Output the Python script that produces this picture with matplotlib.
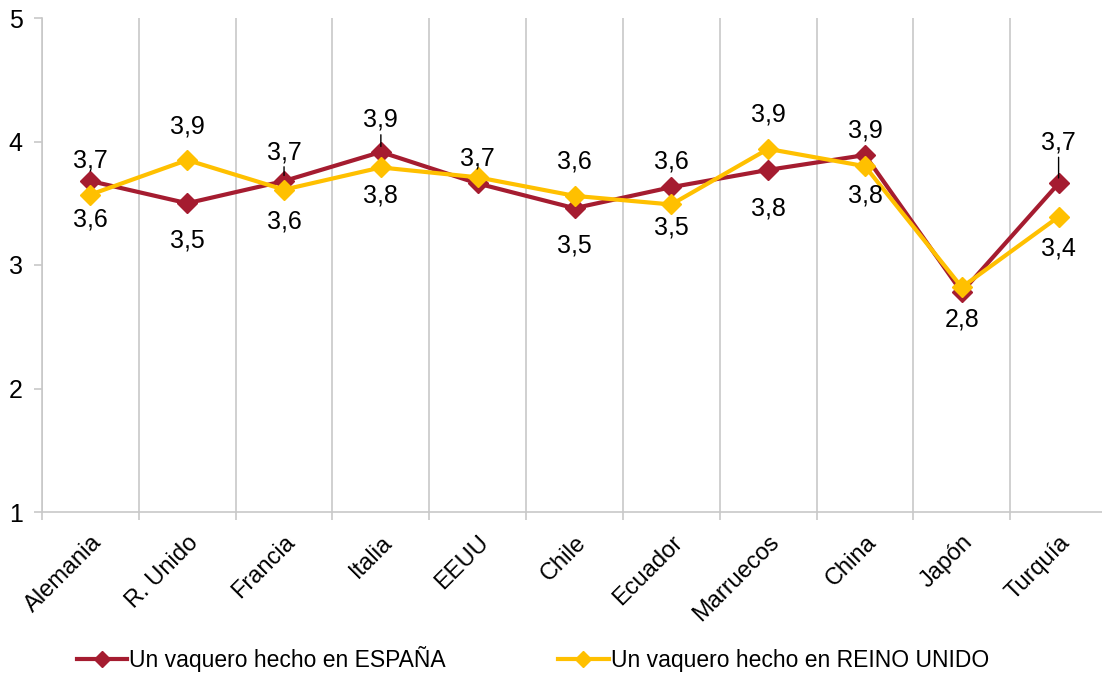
import numpy as np
import matplotlib
matplotlib.use("Agg")
import matplotlib.pyplot as plt

plt.rcParams['font.family'] = ['Liberation Sans', 'DejaVu Sans']

# datos
paises = ['Alemania', 'R. Unido', 'Francia', 'Italia', 'EEUU', 'Chile',
          'Ecuador', 'Marruecos', 'China', 'Japón', 'Turquía']
espana = [3.68, 3.50, 3.68, 3.915, 3.66, 3.46, 3.63, 3.77, 3.89, 2.78, 3.66]
reino_unido = [3.57, 3.85, 3.61, 3.79, 3.71, 3.56, 3.49, 3.94, 3.80, 2.82, 3.39]
nombres = ['Un vaquero hecho en ESPAÑA', 'Un vaquero hecho en REINO UNIDO']

# desplazamiento vertical de las etiquetas (pixeles, + = abajo), None = sin etiqueta
off_es = [-21, 37, -29, -32, -25, 37, -26, 39, -25, 27, -41]
off_ru = [25, -34, 32, 28, None, -34, 23, -34, 29, None, 32]
guia_es = [False, False, True, True, False, False, False, False, False, False, True]

rojo = '#A51C30'
amarillo = '#FFC000'
gris = '#C8C8C8'

fig = plt.figure(figsize=(11.02, 6.73), dpi=100)
ax = fig.add_axes([42/1102, 1-512/673, 1065/1102, 494/673])

x = np.arange(len(paises))
ax.plot(x, espana, color=rojo, lw=3, marker='D', ms=10, label=nombres[0], zorder=3)
ax.plot(x, reino_unido, color=amarillo, lw=3, marker='D', ms=10, label=nombres[1], zorder=4)

def etiqueta(v):
    return f'{v:.1f}'.replace('.', ',')

for i, v in enumerate(espana):
    if off_es[i] is None:
        continue
    ap = dict(arrowstyle='-', color='black', lw=1, shrinkA=0, shrinkB=4) if guia_es[i] else None
    ax.annotate(etiqueta(v), (x[i], v), xytext=(0, -off_es[i]), textcoords='offset pixels',
                ha='center', va='center', fontsize=18, arrowprops=ap, zorder=5)
for i, v in enumerate(reino_unido):
    if off_ru[i] is None:
        continue
    ax.annotate(etiqueta(v), (x[i], v), xytext=(0, -off_ru[i]), textcoords='offset pixels',
                ha='center', va='center', fontsize=18, zorder=5)

ax.set_xlim(-0.5, len(paises) - 0.5)
ax.set_ylim(1, 5)
ax.set_yticks([1, 2, 3, 4, 5])
ax.set_xticks(x)
ax.set_xticklabels(paises, rotation=45, ha='right', rotation_mode='anchor', fontsize=17)
ax.set_xticks(np.arange(-0.5, len(paises), 1), minor=True)
ax.tick_params(axis='x', which='major', length=0, pad=14)
ax.tick_params(axis='x', which='minor', length=6, color=gris, width=1.2)
ax.tick_params(axis='y', length=6, color=gris, width=1.2, labelsize=18, pad=8)
ax.grid(axis='x', which='minor', color=gris, lw=1.2)
for lado in ['top', 'right']:
    ax.spines[lado].set_visible(False)
for lado in ['left', 'bottom']:
    ax.spines[lado].set_color(gris)
    ax.spines[lado].set_linewidth(1.2)

fig.legend(loc='center left', bbox_to_anchor=(56/1102, 1-659/673), ncol=2, frameon=False,
           fontsize=16.5, handlelength=2.2, handletextpad=0.1, columnspacing=4.9,
           markerscale=0.8)

fig.savefig('out.png', dpi=100)
